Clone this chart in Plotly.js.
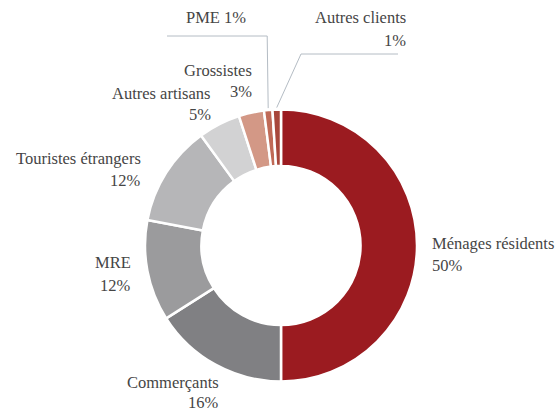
<!DOCTYPE html>
<html><head><meta charset="utf-8">
<script src="https://cdn.plot.ly/plotly-3.0.1.min.js"></script>
<style>html,body{margin:0;padding:0;background:#fff;font-family:'Liberation Serif',serif}#chart{width:556px;height:411px}
#chart svg text{font-family:'Liberation Serif',serif !important;}</style>
</head><body><div id="chart"></div>
<script>
const categories = ["Ménages résidents","Commerçants","MRE","Touristes étrangers","Autres artisans","Grossistes","PME","Autres clients"];
const values = [50,16,12,12,5,3,1,1];
const colors = ["#9b1b20","#808083","#9b9b9d","#b6b6b8","#d2d2d3","#d39886","#c06a57","#a8473b"];

const W=556,H=411, CX=281, CY=245.5, R=136;
const px = x=>x/W, py = y=>1-y/H;

// label layout (pixels): [x, y line1, y line2, anchor]
const labelPos = [
  [430,243,265,'left'],
  [221,382,402,'right'],
  [133,262,285,'right'],
  [143,158,180,'right'],
  [213,93,114,'right'],
  [254,70,91,'right'],
  [248,18,null,'right'],
  [408,18,41,'right']
];
const total = values.reduce((a,b)=>a+b,0);
const FAM = 'Liberation Serif';
const mkFont = () => ({family:FAM, size:16.5, color:'#454545'});
function draw(){
  const annotations=[];
  categories.forEach((c,i)=>{
    const p = labelPos[i];
    const pct = Math.round(values[i]/total*100)+'%';
    const base = {xref:'paper',yref:'paper',xanchor:p[3],align:p[3],yanchor:'middle',showarrow:false};
    if(p[2]===null){
      annotations.push(Object.assign({text:c+' '+pct,x:px(p[0]),y:py(p[1]),font:mkFont()},base));
    } else {
      annotations.push(Object.assign({text:c,x:px(p[0]),y:py(p[1]),font:mkFont()},base));
      annotations.push(Object.assign({text:pct,x:px(p[0]),y:py(p[2]),font:mkFont()},base));
    }
  });
  function midPoint(i){
    let cum=0; for(let k=0;k<i;k++) cum+=values[k];
    const a=(cum+values[i]/2)/total*2*Math.PI;
    return [CX+R*Math.sin(a), CY-R*Math.cos(a)];
  }
  const shapes=[];
  const lc='#b4bcc4';
  let m=midPoint(6);
  shapes.push({type:'path',xref:'paper',yref:'paper',path:`M${px(m[0])},${py(m[1]-2)} L${px(m[0]-1)},${py(36)} L${px(167)},${py(36)}`,line:{color:lc,width:1}});
  m=midPoint(7);
  shapes.push({type:'path',xref:'paper',yref:'paper',path:`M${px(m[0])},${py(m[1]-2)} L${px(301)},${py(54)} L${px(398)},${py(54)}`,line:{color:lc,width:1}});

  const trace={type:'pie',labels:categories,values:values,hole:0.585,sort:false,direction:'clockwise',rotation:0,
    marker:{colors:colors,line:{color:'#ffffff',width:2.5}},textinfo:'none',hoverinfo:'label+percent',
    domain:{x:[px(CX-R),px(CX+R)],y:[py(CY+R),py(CY-R)]},showlegend:false};
  Plotly.newPlot('chart',[trace],{width:W,height:H,margin:{l:0,r:0,t:0,b:0},paper_bgcolor:'#fff',font:{family:FAM},annotations,shapes},{displayModeBar:false,staticPlot:true});
}
if (document.fonts && document.fonts.load) {
  document.fonts.load('16px "Liberation Serif"','Ménages').then(draw, draw);
} else { draw(); }
</script></body></html>
